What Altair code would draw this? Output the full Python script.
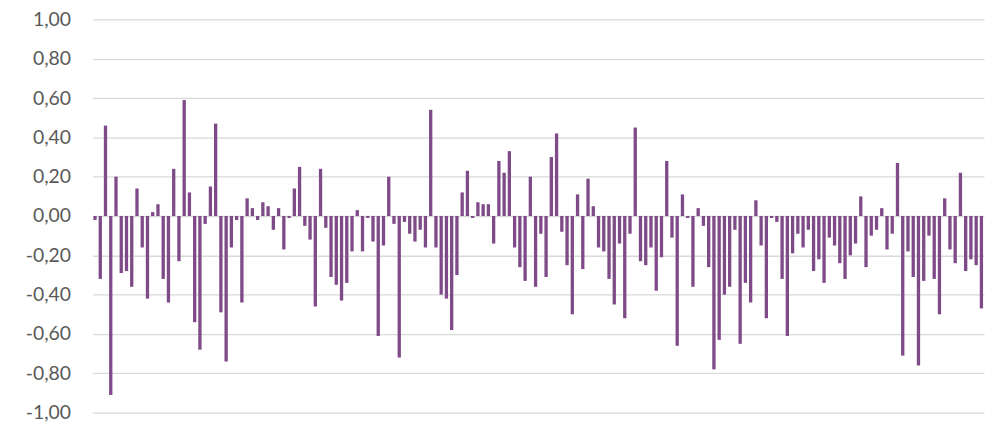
import altair as alt
import pandas as pd

values = [
    -0.02, -0.32, 0.46, -0.91, 0.20, -0.29, -0.28, -0.36, 0.14, -0.16,
    -0.42, 0.02, 0.06, -0.32, -0.44, 0.24, -0.23, 0.59, 0.12, -0.54,
    -0.68, -0.04, 0.15, 0.47, -0.49, -0.74, -0.16, -0.02, -0.44, 0.09,
    0.04, -0.02, 0.07, 0.05, -0.07, 0.04, -0.17, -0.01, 0.14, 0.25,
    -0.05, -0.12, -0.46, 0.24, -0.06, -0.31, -0.35, -0.43, -0.34, -0.18,
    0.03, -0.18, -0.01, -0.13, -0.61, -0.15, 0.20, -0.04, -0.72, -0.03,
    -0.09, -0.13, -0.07, -0.16, 0.54, -0.16, -0.40, -0.42, -0.58, -0.30,
    0.12, 0.23, -0.01, 0.07, 0.06, 0.06, -0.14, 0.28, 0.22, 0.33,
    -0.16, -0.26, -0.33, 0.20, -0.36, -0.09, -0.31, 0.30, 0.42, -0.08,
    -0.25, -0.50, 0.11, -0.27, 0.19, 0.05, -0.16, -0.18, -0.32, -0.45,
    -0.14, -0.52, -0.09, 0.45, -0.23, -0.25, -0.16, -0.38, -0.21, 0.28,
    -0.11, -0.66, 0.11, -0.01, -0.36, 0.04, -0.05, -0.26, -0.78, -0.63,
    -0.40, -0.36, -0.07, -0.65, -0.34, -0.44, 0.08, -0.15, -0.52, -0.01,
    -0.03, -0.32, -0.61, -0.19, -0.09, -0.16, -0.07, -0.28, -0.22, -0.34,
    -0.11, -0.15, -0.24, -0.32, -0.20, -0.14, 0.10, -0.26, -0.10, -0.07,
    0.04, -0.17, -0.09, 0.27, -0.71, -0.18, -0.31, -0.76, -0.33, -0.10,
    -0.32, -0.50, 0.09, -0.17, -0.24, 0.22, -0.28, -0.22, -0.25, -0.47,
]
index = list(range(1, len(values) + 1))
y_ticks = [-1.0, -0.8, -0.6, -0.4, -0.2, 0.0, 0.2, 0.4, 0.6, 0.8, 1.0]

df = pd.DataFrame({"i": index, "v": values})

label_expr = "replace(replace(format(datum.value, '.2f'), '.', ','), '\u2212', '-')"

chart = (
    alt.Chart(df)
    .mark_bar(color="#7E4A87")
    .encode(
        x=alt.X(
            "i:O",
            axis=None,
            scale=alt.Scale(paddingInner=0.37, paddingOuter=0.185),
        ),
        y=alt.Y(
            "v:Q",
            scale=alt.Scale(domain=[-1, 1], nice=False, zero=True),
            axis=alt.Axis(
                values=y_ticks,
                labelExpr=label_expr,
                title=None,
                domain=False,
                ticks=False,
                labelPadding=22,
                labelFont="Lato",
                labelFontSize=19.5,
                labelColor="#595959",
                gridColor="#d9d9d9",
                gridWidth=1.3,
            ),
        ),
    )
    .properties(
        width=898,
        height=396,
        autosize=alt.AutoSizeParams(type="none"),
        padding={"left": 85, "top": 10, "right": 5, "bottom": 15},
    )
    .configure_view(stroke=None)
)

chart.save("out.html", embed_options={"renderer": "svg", "actions": False})
